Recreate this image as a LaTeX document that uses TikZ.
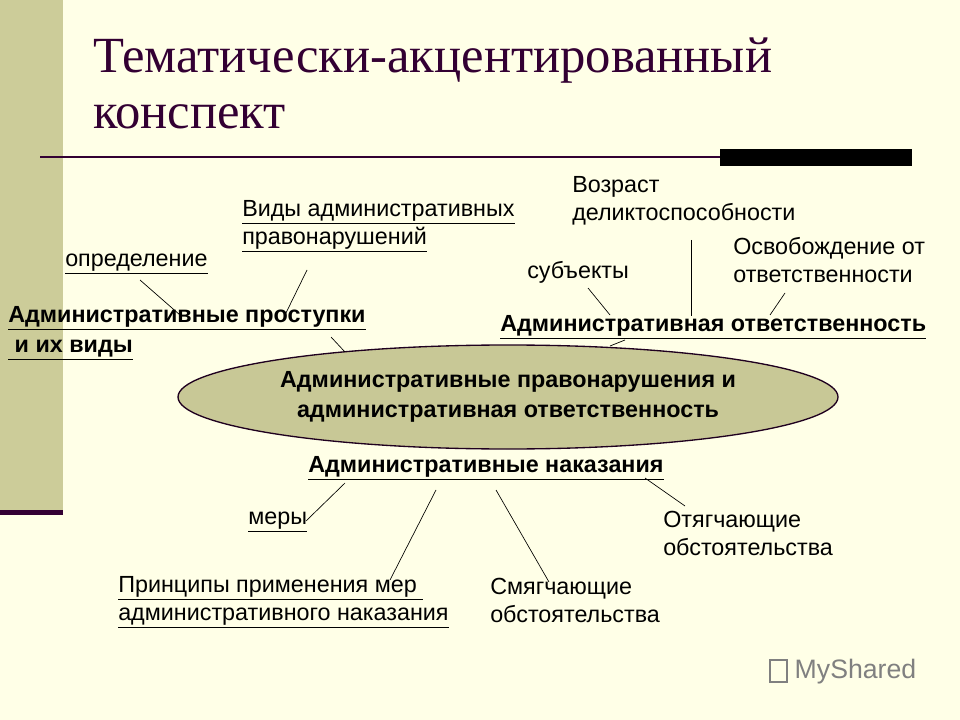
\documentclass[tikz,border=0pt]{standalone}
\usepackage{fontspec}
\usetikzlibrary{shapes.geometric}
\setmainfont{Liberation Sans}
\newfontfamily\titlefont{Liberation Serif}
\definecolor{bg}{HTML}{FFFFE7}
\definecolor{bar}{HTML}{CCCC99}
\definecolor{plum}{HTML}{330033}
\definecolor{ell}{HTML}{C8C896}
\tikzset{
 lbl/.style={anchor=north west,inner sep=0pt,align=left,font=\fontsize{17.5}{21}\selectfont},
 blbl/.style={lbl,font=\fontsize{17.5}{23}\selectfont\bfseries},
 conn/.style={draw=black,line width=0.5pt}
}
\begin{document}
\begin{tikzpicture}[x=0.75pt,y=-0.75pt]
\useasboundingbox (0,0) rectangle (960,720);
\fill[bg] (0,0) rectangle (960,720);
\fill[bar] (0,0) rectangle (63,510);
\fill[plum] (0,510) rectangle (63,515);
\draw[plum,line width=1.2pt] (40,157) -- (720,157);
\fill[black] (720,149) rectangle (912,166);
\node[anchor=north west,inner sep=0pt,align=left,text=plum,font=\titlefont\fontsize{38}{42}\selectfont] (title) at (93,38) {Тематически-акцентированный\\конспект};

\node[ellipse,draw=plum!60!black,line width=1pt,fill=ell,minimum width=495pt,minimum height=78pt,inner sep=0pt] (main) at (508,397) {};
\node[align=center,font=\fontsize{17.5}{22}\selectfont\bfseries] (maintext) at (508,397) {Административные правонарушения и\\административная ответственность};

\node[lbl] (opr) at (65,254) {\underline{определение}};
\node[lbl] (vid) at (242,200) {\underline{Виды административных}\\\underline{правонарушений}};
\node[blbl] (prost) at (8,306) {\underline{Административные проступки}\\\underline{\ и их виды}};
\node[lbl] (subj) at (527,261) {субъекты};
\node[lbl] (voz) at (572,176) {Возраст\\деликтоспособности};
\node[lbl] (osv) at (733,237) {Освобождение от\\ответственности};
\node[blbl] (otv) at (500,315) {\underline{Административная ответственность}};
\node[blbl] (nak) at (308,456) {\underline{Административные наказания}};
\node[lbl] (mery) at (248,512) {\underline{меры}};
\node[lbl] (princ) at (118,576) {\underline{Принципы применения мер\ }\\\underline{административного наказания}};
\node[lbl] (smyag) at (490,578) {Смягчающие\\обстоятельства};
\node[lbl] (otyag) at (663,511) {Отягчающие\\обстоятельства};
\node[anchor=west,text=gray,font=\fontsize{20}{22}\selectfont] (logo) at (790,672) {MyShared};
\draw[gray,line width=1pt] (770,660) rectangle (787,682);

\coordinate (a1) at (140,280); \coordinate (a2) at (180,315);
\coordinate (b1) at (307,270); \coordinate (b2) at (285,315);
\coordinate (c1) at (331,337); \coordinate (c2) at (345,352);
\coordinate (d1) at (588,288); \coordinate (d2) at (610,315);
\coordinate (e1) at (691,240); \coordinate (e2) at (691,316);
\coordinate (f1) at (785,293); \coordinate (f2) at (770,315);
\coordinate (g1) at (625,340); \coordinate (g2) at (610,346);
\coordinate (h1) at (345,483); \coordinate (h2) at (306,521);
\coordinate (i1) at (436,490); \coordinate (i2) at (390,580);
\coordinate (j1) at (496,490); \coordinate (j2) at (549,582);
\coordinate (k1) at (645,478); \coordinate (k2) at (685,506);
\foreach \p in {a,b,c,d,e,f,g,h,i,j,k} \draw[conn] (\p1) -- (\p2);
\end{tikzpicture}
\end{document}
